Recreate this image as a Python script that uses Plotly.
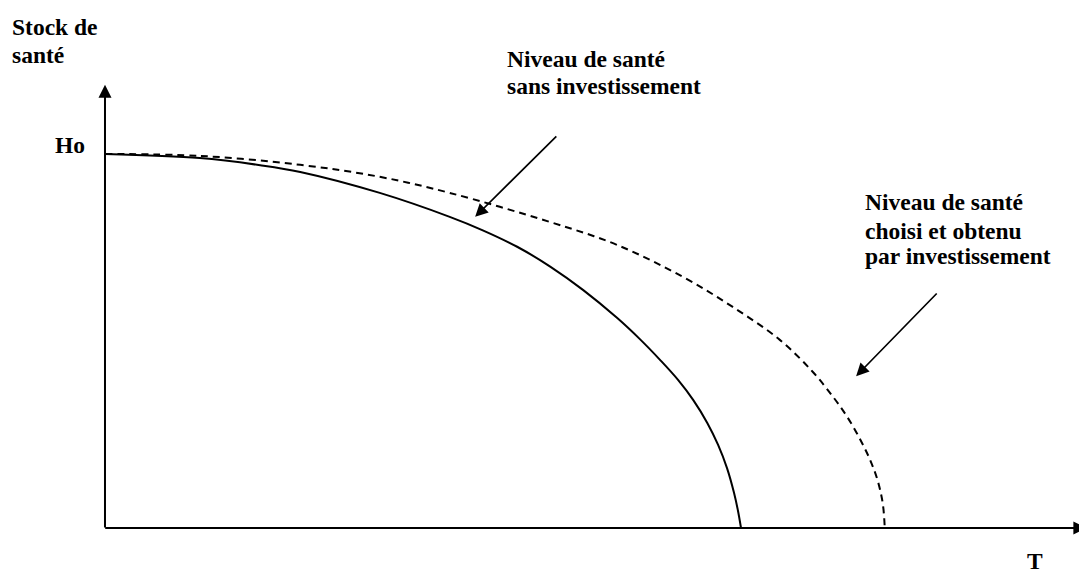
import plotly.graph_objects as go

# Data (arbitrary units: T scaled so the no-investment curve ends at 100, Ho = 100)
t_sans = [0, 14.9, 24.4, 30.7, 43.2, 54.2, 59.4, 64.8, 70.0, 75.2, 80.5, 84.1, 87.3,
          90.1, 92.5, 94.7, 96.4, 97.8, 98.9, 99.5, 100.0]
h_sans = [100, 98.9, 97.0, 95.2, 89.6, 83.2, 79.6, 75.2, 69.9, 63.6, 56.2, 50.5, 44.9,
          39.6, 34.2, 28.1, 22.2, 16.0, 9.4, 4.8, 0]

t_inv = [0, 14.9, 30.7, 43.2, 54.2, 70.0, 80.5, 90.9, 98.7, 106.1, 111.3, 114.5, 116.7,
         118.7, 120.3, 121.5, 122.3, 122.6]
h_inv = [100, 99.5, 97.1, 93.9, 89.6, 81.8, 75.7, 67.1, 59.1, 50.3, 41.7, 35.0, 29.7,
         23.8, 18.2, 12.6, 6.4, 0]

W, H = 1079, 571
OFF = 8  # page body margin
FONT = "Liberation Serif, Times New Roman, serif"
FS = 23.5

fig = go.Figure()
fig.add_trace(go.Scatter(x=t_sans, y=h_sans, mode="lines", line_shape="spline",
                         line=dict(color="black", width=2), showlegend=False, hoverinfo="skip"))
fig.add_trace(go.Scatter(x=t_inv, y=h_inv, mode="lines", line_shape="spline",
                         line=dict(color="black", width=2, dash="7px,5px"),
                         showlegend=False, hoverinfo="skip"))

def px(x, y):
    return (x - OFF) / W, 1 - (y - OFF) / H

anns = []
arrow_common = dict(xref="x", yref="y", axref="x", ayref="y", text="", showarrow=True,
                    arrowhead=2, arrowcolor="black", standoff=0)
# axes with arrows
anns.append(dict(x=0, y=118.5, ax=0, ay=-0.3, arrowsize=1.3, arrowwidth=2, **arrow_common))
anns.append(dict(x=154.3, y=0, ax=-0.2, ay=0, arrowsize=1.3, arrowwidth=2, **arrow_common))
# pointer arrows
anns.append(dict(x=58.2, y=83.2, ax=71.2, ay=105.1, arrowsize=1.5, arrowwidth=1.7, **arrow_common))
anns.append(dict(x=118.1, y=40.6, ax=131.0, ay=63.1, arrowsize=1.5, arrowwidth=1.7, **arrow_common))

def label(text, xpx, ypx):
    x, y = px(xpx, ypx)
    anns.append(dict(x=x, y=y, xref="paper", yref="paper", text="<b>" + text + "</b>",
                     showarrow=False, xanchor="left", yanchor="middle", align="left",
                     font=dict(family=FONT, size=FS, color="black")))

label("Stock de", 10, 26.5)
label("santé", 10, 55.5)
label("Ho", 53, 144.5)
label("Niveau de santé", 505, 58.5)
label("sans investissement", 505, 86)
label("Niveau de santé", 863, 201.5)
label("choisi et obtenu", 863, 230.5)
label("par investissement", 863, 255.5)
label("T", 1025, 561)

fig.update_layout(
    width=W, height=H, margin=dict(l=0, r=0, t=0, b=0, pad=0),
    paper_bgcolor="white", plot_bgcolor="white",
    xaxis=dict(range=[-15.25, 154.40], visible=False, fixedrange=True),
    yaxis=dict(range=[-13.64, 139.04], visible=False, fixedrange=True),
    annotations=anns, showlegend=False,
)

fig.write_html("out.html")
